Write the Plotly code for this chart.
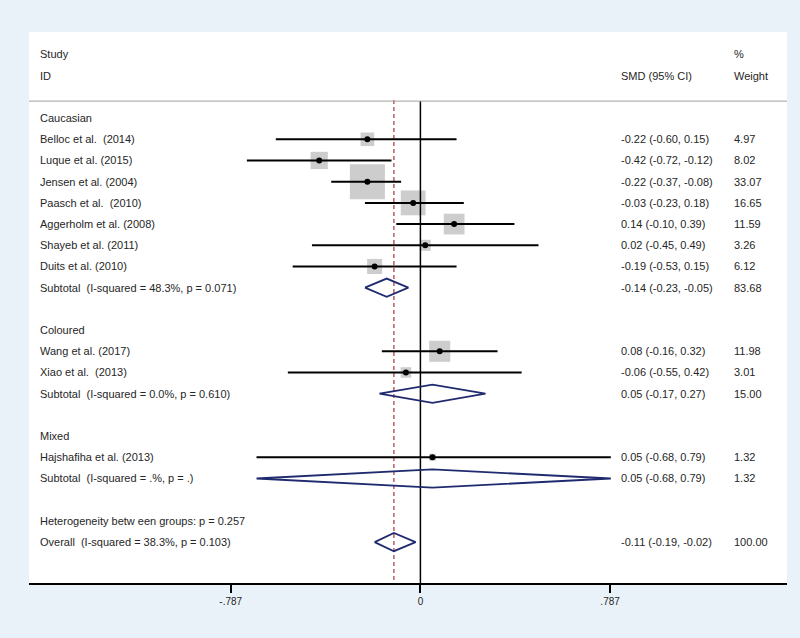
import plotly.graph_objects as go

# ---------------- data ----------------
groups = ["Caucasian", "Coloured", "Mixed"]
studies = [
    ["Belloc et al.\u00a0 (2014)", "Luque et al. (2015)", "Jensen et al. (2004)",
     "Paasch et al.\u00a0 (2010)", "Aggerholm et al. (2008)", "Shayeb et al. (2011)",
     "Duits et al. (2010)"],
    ["Wang et al. (2017)", "Xiao et al.\u00a0 (2013)"],
    ["Hajshafiha et al. (2013)"],
]
smd = [[-0.22, -0.42, -0.22, -0.03, 0.14, 0.02, -0.19], [0.08, -0.06], [0.05]]
ci_lo = [[-0.60, -0.72, -0.37, -0.23, -0.10, -0.45, -0.53], [-0.16, -0.55], [-0.68]]
ci_hi = [[0.15, -0.12, -0.08, 0.18, 0.39, 0.49, 0.15], [0.32, 0.42], [0.79]]
weight = [[4.97, 8.02, 33.07, 16.65, 11.59, 3.26, 6.12], [11.98, 3.01], [1.32]]

sub_labels = ["Subtotal\u00a0 (I-squared = 48.3%, p = 0.071)",
              "Subtotal\u00a0 (I-squared = 0.0%, p = 0.610)",
              "Subtotal\u00a0 (I-squared = .%, p = .)"]
sub_est = [-0.14, 0.05, 0.05]
sub_lo = [-0.23, -0.17, -0.68]
sub_hi = [-0.05, 0.27, 0.79]
sub_w = [83.68, 15.00, 1.32]

het_label = "Heterogeneity betw een groups: p = 0.257"
overall_label = "Overall\u00a0 (I-squared = 38.3%, p = 0.103)"
overall_est, overall_lo, overall_hi, overall_w = -0.11, -0.19, -0.02, 100.00

tick_vals = [-0.787, 0, 0.787]
tick_text = ["-.787", "0", ".787"]

# ---------------- layout helpers ----------------
TEXT = "#262626"
FONT = "Liberation Sans, Arial, sans-serif"
BOX = "#b8b8b8"
NAVY = "#1f2b6e"
HALF_H = 0.43

fig = go.Figure()
annotations = []


def add_text(x, y, txt, size=11):
    annotations.append(dict(x=x, y=y, xref="paper", yref="y", text=txt,
                            showarrow=False, xanchor="left", yanchor="middle",
                            font=dict(size=size, color=TEXT, family=FONT)))


def ci_text(e, lo, hi):
    return f"{e:.2f} ({lo:.2f}, {hi:.2f})"


XL, XS, XW = 0.0125, 0.7784, 0.9274

row = 0
ci_x, ci_y = [], []
box_x, box_y, box_s = [], [], []
diamonds = []
for g, name in enumerate(groups):
    add_text(XL, row, name)
    row += 1
    for i, s in enumerate(studies[g]):
        add_text(XL, row, s)
        add_text(XS, row, ci_text(smd[g][i], ci_lo[g][i], ci_hi[g][i]))
        add_text(XW, row, f"{weight[g][i]:.2f}")
        ci_x += [ci_lo[g][i], ci_hi[g][i], None]
        ci_y += [row, row, None]
        box_x.append(smd[g][i])
        box_y.append(row)
        box_s.append(6.09 * weight[g][i] ** 0.5)
        row += 1
    add_text(XL, row, sub_labels[g])
    add_text(XS, row, ci_text(sub_est[g], sub_lo[g], sub_hi[g]))
    add_text(XW, row, f"{sub_w[g]:.2f}")
    diamonds.append((sub_est[g], sub_lo[g], sub_hi[g], row))
    row += 2

add_text(XL, row, het_label)
row += 1
add_text(XL, row, overall_label)
add_text(XS, row, ci_text(overall_est, overall_lo, overall_hi))
add_text(XW, row, f"{overall_w:.2f}")
diamonds.append((overall_est, overall_lo, overall_hi, row))

# headers
add_text(XL, -3.02, "Study")
add_text(XL, -1.98, "ID")
add_text(XS, -1.98, "SMD (95% CI)")
add_text(XW, -3.02, "%")
add_text(XW, -1.98, "Weight")

Y_TOP, Y_BOT = -4.06, 21.93
HEADER_Y = -0.80

# boxes
fig.add_trace(go.Scatter(x=box_x, y=box_y, mode="markers",
                         marker=dict(symbol="square", size=box_s, color=BOX,
                                     line=dict(width=0)),
                         hoverinfo="skip", showlegend=False))

# reference lines
fig.add_trace(go.Scatter(x=[overall_est, overall_est], y=[HEADER_Y - 0.05, Y_BOT],
                         mode="lines", line=dict(color="#b04444", width=1.3, dash="4px,3px"),
                         hoverinfo="skip", showlegend=False))
fig.add_trace(go.Scatter(x=[0, 0], y=[HEADER_Y, Y_BOT], mode="lines",
                         line=dict(color="black", width=1.5),
                         hoverinfo="skip", showlegend=False))

# CI lines
fig.add_trace(go.Scatter(x=ci_x, y=ci_y, mode="lines",
                         line=dict(color="black", width=2), showlegend=False))
# points
fig.add_trace(go.Scatter(x=box_x, y=box_y, mode="markers",
                         marker=dict(symbol="circle", size=6, color="black"),
                         showlegend=False))
# diamonds
for e, lo, hi, r in diamonds:
    fig.add_trace(go.Scatter(x=[lo, e, hi, e, lo], y=[r, r - HALF_H, r, r + HALF_H, r],
                             mode="lines",
                             line=dict(color=NAVY, width=1.8), showlegend=False))

fig.update_layout(
    width=800, height=638,
    margin=dict(l=29, r=13, t=32, b=55),
    paper_bgcolor="#eaf2f9",
    plot_bgcolor="white",
    annotations=annotations,
    shapes=[dict(type="line", xref="paper", yref="y", x0=0, x1=1,
                 y0=HEADER_Y, y1=HEADER_Y, line=dict(color="#a0a0a0", width=1))],
    xaxis=dict(range=[-1.624, 1.521], showgrid=False, zeroline=False,
               showline=True, linecolor="black", linewidth=1.5,
               ticks="outside", ticklen=8, tickwidth=1.5, tickcolor="black",
               tickvals=tick_vals, ticktext=tick_text,
               tickfont=dict(size=10, color=TEXT, family=FONT)),
    yaxis=dict(range=[Y_BOT, Y_TOP], showgrid=False, zeroline=False,
               showticklabels=False, showline=False),
    font=dict(family=FONT, color=TEXT),
)

fig.write_html("out.html", config={"displayModeBar": False},
               post_script="document.body.style.margin='0';document.body.style.overflow='hidden';")
